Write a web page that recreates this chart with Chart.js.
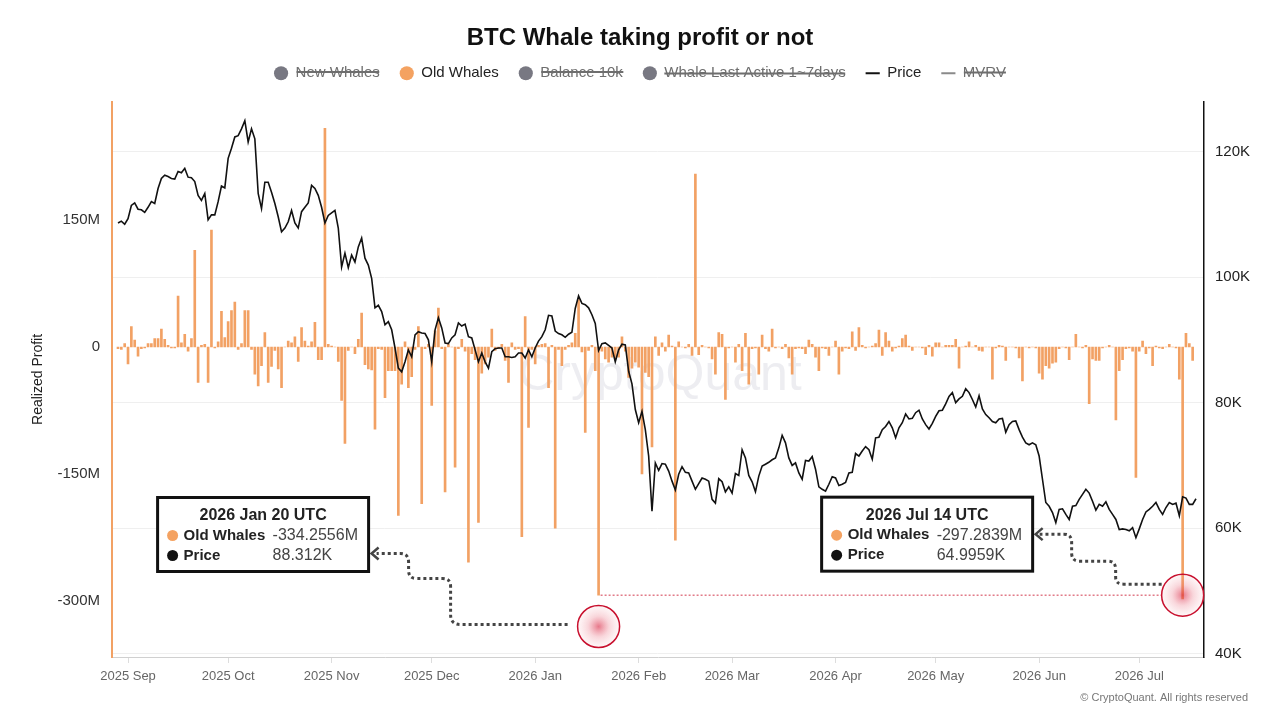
<!DOCTYPE html>
<html>
<head>
<meta charset="utf-8">
<script src="https://cdn.jsdelivr.net/npm/chart.js@4.4.1/dist/chart.umd.min.js"></script>
<style>
html,body{margin:0;padding:0;background:#fff}
#wrap{width:1280px;height:720px;position:relative}
</style>
</head>
<body>
<div id="wrap"><canvas id="c"></canvas></div>
<script>
// daily series, first value is 2025-08-29
const startDate = '2025-08-29'

const monthLabels = ['2025 Sep','2025 Oct','2025 Nov','2025 Dec','2026 Jan','2026 Feb','2026 Mar','2026 Apr','2026 May','2026 Jun','2026 Jul']
const monthStarts = ['2025-09-01','2025-10-01','2025-11-01','2025-12-01','2026-01-01','2026-02-01','2026-03-01','2026-04-01','2026-05-01','2026-06-01','2026-07-01']

const profitTicks = [-300, -150, 0, 150]
const priceTicks = [40, 60, 80, 100, 120]

// BTC price, thousands USD
const price = [
  108.6,108.9,108.4,109.3,111.4,111.8,110.8,110.7,110.3,111.1,
  112.0,111.7,114.1,115.7,116.2,116.0,115.7,115.6,116.8,116.6,
  117.3,115.9,115.8,115.2,113.0,112.2,113.3,109.1,109.9,109.9,
  112.0,114.5,114.2,118.9,120.5,122.3,122.5,123.6,124.9,121.5,
  123.6,122.0,113.3,110.9,115.1,115.1,113.5,111.7,109.6,107.2,
  107.8,108.8,110.6,108.6,107.8,110.4,111.1,111.8,114.6,114.1,
  113.0,111.1,108.6,109.8,110.2,110.6,107.8,101.6,103.8,101.5,
  103.5,102.4,104.8,106.2,103.0,101.9,99.8,95.1,95.5,94.5,
  92.4,92.9,91.6,88.7,85.5,84.9,86.5,88.4,87.3,90.8,
  91.3,91.1,91.0,90.0,86.5,91.6,93.5,91.9,89.5,89.4,
  90.3,90.8,92.7,92.2,92.5,90.5,90.3,88.4,86.5,87.9,
  86.5,85.5,88.1,88.6,88.7,88.7,87.3,87.3,87.2,87.3,
  87.9,87.9,87.1,88.4,87.3,88.7,89.8,90.5,91.6,93.9,
  93.8,91.4,91.0,90.8,90.4,90.9,91.2,95.0,97.0,95.8,
  95.6,95.1,94.0,92.6,88.3,89.4,89.5,89.1,88.7,86.5,
  88.4,89.3,89.2,85.0,83.0,78.9,76.8,78.6,75.7,71.5,
  62.7,70.4,69.2,70.3,70.2,69.1,67.5,66.1,68.6,69.8,
  68.9,68.8,67.5,66.2,67.1,68.0,67.8,67.5,64.6,64.0,
  67.9,67.4,65.8,66.6,65.6,68.7,68.4,72.5,71.2,68.4,
  67.4,65.8,68.3,69.9,70.2,70.5,70.9,71.2,72.8,74.8,
  73.6,71.2,70.0,70.4,68.8,67.8,70.8,70.7,71.4,69.4,
  66.6,66.2,65.9,67.0,68.2,68.0,66.8,67.0,67.3,68.8,
  68.9,71.9,71.5,72.3,73.0,72.5,71.0,74.4,74.5,75.7,
  76.2,77.0,76.0,74.4,76.0,76.8,78.2,77.4,77.5,78.4,
  78.8,77.4,76.5,75.8,76.7,77.8,78.7,78.8,79.8,81.0,
  81.6,80.0,80.6,81.0,82.2,81.6,80.5,79.3,81.1,79.0,
  78.1,77.6,77.0,76.8,77.4,77.5,75.3,76.5,77.0,77.1,
  75.7,74.5,73.6,73.3,73.6,73.3,71.5,67.8,64.1,63.5,
  62.5,60.9,63.0,63.1,62.2,61.4,63.5,63.6,64.6,65.4,
  66.2,65.6,64.3,62.9,63.8,63.5,64.2,63.0,62.2,61.4,
  59.8,59.9,59.8,59.6,60.1,58.5,59.9,61.4,62.6,63.0,
  63.5,64.1,63.0,62.2,63.3,64.1,63.8,64.0,62.0,65.0,
  64.8,63.8,63.8,64.7
]

// Old Whales realized profit, millions USD
const oldWhales = [
  -2,-3,4,-20,24,8,-11,-2,-1,4,
  4,10,10,21,9,2,-1,-1,60,5,
  15,-5,10,114,-42,2,3,-42,138,-1,
  6,42,11,30,43,53,-3,4,43,43,
  -3,-32,-46,-22,17,-42,-23,-4,-26,-48,
  0,7,5,12,-17,23,7,1,6,29,
  -15,-15,258,3,1,0,-17,-63,-114,-4,
  0,-8,9,40,-21,-26,-27,-97,-2,-3,
  -60,-28,-28,-28,-199,-44,6,-48,-35,-3,
  24,-185,-2,3,-69,19,46,-2,-171,3,
  0,-142,-2,9,-5,-254,-8,-15,-207,-31,
  -20,-12,21,-4,-2,3,-16,-42,5,-3,
  -2,-224,36,-95,-3,-20,2,3,4,-48,
  2,-214,-3,-22,-3,2,5,16,56,-6,
  -101,-4,2,-28,-293,-5,-14,-18,-12,-14,
  -12,12,-5,-36,-25,-18,-24,-150,-30,-35,
  -118,12,-10,5,-5,14,1,-228,6,0,
  -1,3,-10,204,-9,2,0,-1,-14,-32,
  17,15,-62,-1,0,-18,3,-28,16,-44,
  -2,-1,-32,14,-2,-5,21,-1,0,-2,
  3,-13,-32,-2,-1,-2,-8,8,3,-12,
  -28,-1,-2,-10,0,7,-32,-5,-1,-2,
  18,-4,23,2,-1,0,1,4,20,-10,
  17,7,-5,-1,1,10,14,1,-4,0,
  0,-1,-9,2,-11,5,5,0,2,2,
  2,9,-25,0,1,6,0,2,-4,-5,
  0,0,-38,-1,2,1,-16,0,0,-1,
  -13,-40,0,-1,0,-1,-31,-38,-22,-25,
  -19,-18,-2,0,-1,-15,0,15,0,-1,
  2,-67,-14,-16,-16,-1,0,2,0,-86,
  -28,-15,-2,-1,-5,-154,-5,7,-8,-1,
  -22,1,-1,-2,0,3,0,-1,-38,-297.3,
  16,4,-16
]

const dayOf = d => Math.round((Date.parse(d) - Date.parse(startDate)) / 864e5)
const days = price.map((_, i) => i)
const monthDays = monthStarts.map(dayOf)

const FONT = '"Liberation Sans", Arial, sans-serif'
Chart.defaults.font.family = FONT

// callouts
const callouts = [
  { date: '2026-01-20', title: '2026 Jan 20 UTC', whales: '-334.2556M', price: '88.312K' },
  { date: '2026-07-14', title: '2026 Jul 14 UTC', whales: '-297.2839M', price: '64.9959K' }
]

function dotted(ctx, pts) {
  ctx.beginPath()
  ctx.moveTo(pts[0][0], pts[0][1])
  for (let k = 1; k < pts.length; k++) {
    const p = pts[k]
    if (p.length === 4) ctx.quadraticCurveTo(p[0], p[1], p[2], p[3])
    else ctx.lineTo(p[0], p[1])
  }
  ctx.stroke()
}

function box(ctx, left, top, c) {
  const w = 211, h = 74
  ctx.fillStyle = '#fff'
  ctx.fillRect(left, top, w, h)
  ctx.lineWidth = 3
  ctx.setLineDash([])
  ctx.strokeStyle = '#111'
  ctx.strokeRect(left, top, w, h)
  ctx.textBaseline = 'middle'
  ctx.textAlign = 'center'
  ctx.fillStyle = '#222'
  ctx.font = 'bold 16px ' + FONT
  ctx.fillText(c.title, left + w / 2, top + 18)
  const rows = [['Old Whales', c.whales, '#f4a261'], ['Price', c.price, '#111']]
  rows.forEach((r, k) => {
    const y = top + 38 + k * 20
    ctx.beginPath()
    ctx.arc(left + 15, y, 5.5, 0, Math.PI * 2)
    ctx.fillStyle = r[2]
    ctx.fill()
    ctx.textAlign = 'left'
    ctx.fillStyle = '#222'
    ctx.font = 'bold 15px ' + FONT
    ctx.fillText(r[0], left + 26, y)
    ctx.fillStyle = '#444'
    ctx.font = '16px ' + FONT
    ctx.fillText(r[1], left + 115, y)
  })
}

function ring(ctx, x, y) {
  const g = ctx.createRadialGradient(x, y, 0, x, y, 21)
  g.addColorStop(0, 'rgba(215,30,60,0.6)')
  g.addColorStop(0.5, 'rgba(230,90,110,0.25)')
  g.addColorStop(1, 'rgba(240,150,160,0.08)')
  ctx.setLineDash([])
  ctx.beginPath()
  ctx.arc(x, y, 21, 0, Math.PI * 2)
  ctx.fillStyle = g
  ctx.fill()
  ctx.lineWidth = 1.5
  ctx.strokeStyle = '#c8102e'
  ctx.stroke()
}

// extra room under the legend row
const legendGap = {
  id: 'legendGap',
  beforeInit(chart) {
    const lg = chart.legend
    if (!lg) return
    const fit = lg.fit
    lg.fit = function () { fit.call(this); this.height += 11 }
  }
}

const overlay = {
  id: 'overlay',
  beforeDatasetsDraw(chart) {
    const { ctx, chartArea: a } = chart
    ctx.save()
    ctx.font = '50px ' + FONT
    ctx.fillStyle = 'rgba(185,185,200,0.25)'
    ctx.textAlign = 'center'
    ctx.textBaseline = 'middle'
    ctx.fillText('CryptoQuant', (a.left + a.right) / 2 + 2, 376)
    ctx.restore()
  },
  afterDraw(chart) {
    const { ctx } = chart
    const xs = chart.scales.x, yl = chart.scales.yL
    const d1 = dayOf(callouts[0].date), d2 = dayOf(callouts[1].date)
    const tipY = yl.getPixelForValue(oldWhales[d1])
    const c1 = { x: xs.getPixelForValue(d1), y: yl.getPixelForValue(-330) }
    const c2 = { x: xs.getPixelForValue(d2), y: tipY }
    ctx.save()

    // red dotted level line
    ctx.strokeStyle = '#d23a4e'
    ctx.lineWidth = 1
    ctx.setLineDash([2, 2])
    ctx.beginPath()
    ctx.moveTo(c1.x + 2, tipY)
    ctx.lineTo(c2.x - 21, tipY)
    ctx.stroke()

    ring(ctx, c1.x, c1.y)
    ring(ctx, c2.x, c2.y)

    // dotted arrows
    ctx.strokeStyle = '#444'
    ctx.lineWidth = 3
    ctx.setLineDash([3, 3])
    const p1 = [[-31,-2],[-138,-2],[-148,-2,-148,-12],[-148,-40],[-148,-48,-156,-48],[-182,-48],[-190,-48,-190,-56],[-190,-64],[-190,-73,-198,-73],[-222,-73]]
      .map(p => p.map((v, k) => v + (k % 2 ? c1.y : c1.x)))
    dotted(ctx, p1)
    const p2 = [[-21,-11],[-59,-11],[-67,-11,-67,-18],[-67,-26],[-67,-34,-75,-34],[-103,-34],[-111,-34,-111,-42],[-111,-53],[-111,-61,-119,-61],[-143,-61]]
      .map(p => p.map((v, k) => v + (k % 2 ? c2.y : c2.x)))
    dotted(ctx, p2)
    ctx.setLineDash([])
    ctx.lineWidth = 2.5
    ;[[c1.x - 227, c1.y - 73], [c2.x - 147, c2.y - 61]].forEach(([tx, ty]) => {
      ctx.beginPath()
      ctx.moveTo(tx + 7, ty - 6)
      ctx.lineTo(tx, ty)
      ctx.lineTo(tx + 7, ty + 6)
      ctx.stroke()
    })

    box(ctx, c1.x - 441, c1.y - 129, callouts[0])
    box(ctx, c2.x - 361, c2.y - 98, callouts[1])

    ctx.fillStyle = '#777'
    ctx.font = '11px ' + FONT
    ctx.textAlign = 'right'
    ctx.textBaseline = 'middle'
    ctx.fillText('\u00A9 CryptoQuant. All rights reserved', 1248, 698)
    ctx.restore()
  }
}

new Chart(document.getElementById('c'), {
  type: 'bar',
  data: {
    labels: days,
    datasets: [
      { label: 'New Whales', data: [], hidden: true, yAxisID: 'yL', legendColor: '#787882' },
      { label: 'Old Whales', data: oldWhales, yAxisID: 'yL', backgroundColor: '#f2a164', barThickness: 2, grouped: false, order: 2, legendColor: '#f4a261' },
      { label: 'Balance 10k', data: [], hidden: true, yAxisID: 'yL', legendColor: '#787882' },
      { label: 'Whale Last Active 1~7days', data: [], hidden: true, yAxisID: 'yL', legendColor: '#787882' },
      { type: 'line', label: 'Price', data: price, yAxisID: 'yR', borderColor: '#111', borderWidth: 1.6, pointRadius: 0, tension: 0, order: 1, legendColor: '#111' },
      { type: 'line', label: 'MVRV', data: [], hidden: true, yAxisID: 'yR', borderColor: '#999', pointRadius: 0, legendColor: '#8a8a8a' }
    ]
  },
  options: {
    responsive: true,
    maintainAspectRatio: false,
    animation: false,
    layout: { padding: 0 },
    plugins: {
      title: {
        display: true,
        text: 'BTC Whale taking profit or not',
        color: '#111',
        font: { size: 24, weight: 'bold' },
        padding: { top: 24, bottom: -7 }
      },
      legend: {
        labels: {
          usePointStyle: true,
          boxWidth: 14,
          boxHeight: 10,
          padding: 20,
          font: { size: 15 },
          generateLabels: chart => chart.data.datasets.map((ds, i) => {
            const hidden = !chart.isDatasetVisible(i)
            const isLine = ds.type === 'line'
            return {
              text: ds.label,
              datasetIndex: i,
              hidden: hidden,
              fillStyle: ds.legendColor,
              strokeStyle: ds.legendColor,
              lineWidth: isLine ? 2 : 0,
              pointStyle: isLine ? 'line' : 'circle',
              fontColor: hidden ? '#6e6e6e' : '#222'
            }
          })
        }
      },
      tooltip: { enabled: false }
    },
    scales: {
      x: {
        type: 'linear',
        min: -1.8,
        max: 325.4,
        offset: false,
        afterBuildTicks: s => { s.ticks = monthDays.map(v => ({ value: v })) },
        afterFit: s => { s.height = 63 },
        ticks: {
          autoSkip: false,
          maxRotation: 0,
          color: '#666',
          font: { size: 13 },
          padding: 6,
          callback: v => { const k = monthDays.indexOf(v); return k < 0 ? '' : monthLabels[k] }
        },
        grid: { drawOnChartArea: false, drawTicks: true, tickLength: 6, color: '#dddddd', offset: false },
        border: { color: '#d0d0d0', width: 1 }
      },
      yL: {
        position: 'left',
        min: -366,
        max: 289.4,
        afterBuildTicks: s => { s.ticks = profitTicks.map(v => ({ value: v })) },
        afterFit: s => { s.width = 112 },
        ticks: {
          color: '#333',
          font: { size: 15 },
          padding: 12,
          callback: v => v === 0 ? '0' : v + 'M'
        },
        grid: { display: false, drawTicks: false },
        border: { display: true, color: '#f2a164', width: 2 },
        title: { display: true, text: 'Realized Profit', color: '#222', font: { size: 14 }, padding: { top: 30, bottom: 0 } }
      },
      yR: {
        position: 'right',
        min: 39.5,
        max: 127.9,
        afterBuildTicks: s => { s.ticks = priceTicks.map(v => ({ value: v })) },
        afterFit: s => { s.width = 76 },
        ticks: {
          color: '#222',
          font: { size: 15 },
          padding: 11,
          callback: v => v + 'K'
        },
        grid: { color: '#efefef', drawTicks: false },
        border: { display: true, color: '#111', width: 1.5 }
      }
    }
  },
  plugins: [legendGap, overlay]
})
</script>
</body>
</html>
